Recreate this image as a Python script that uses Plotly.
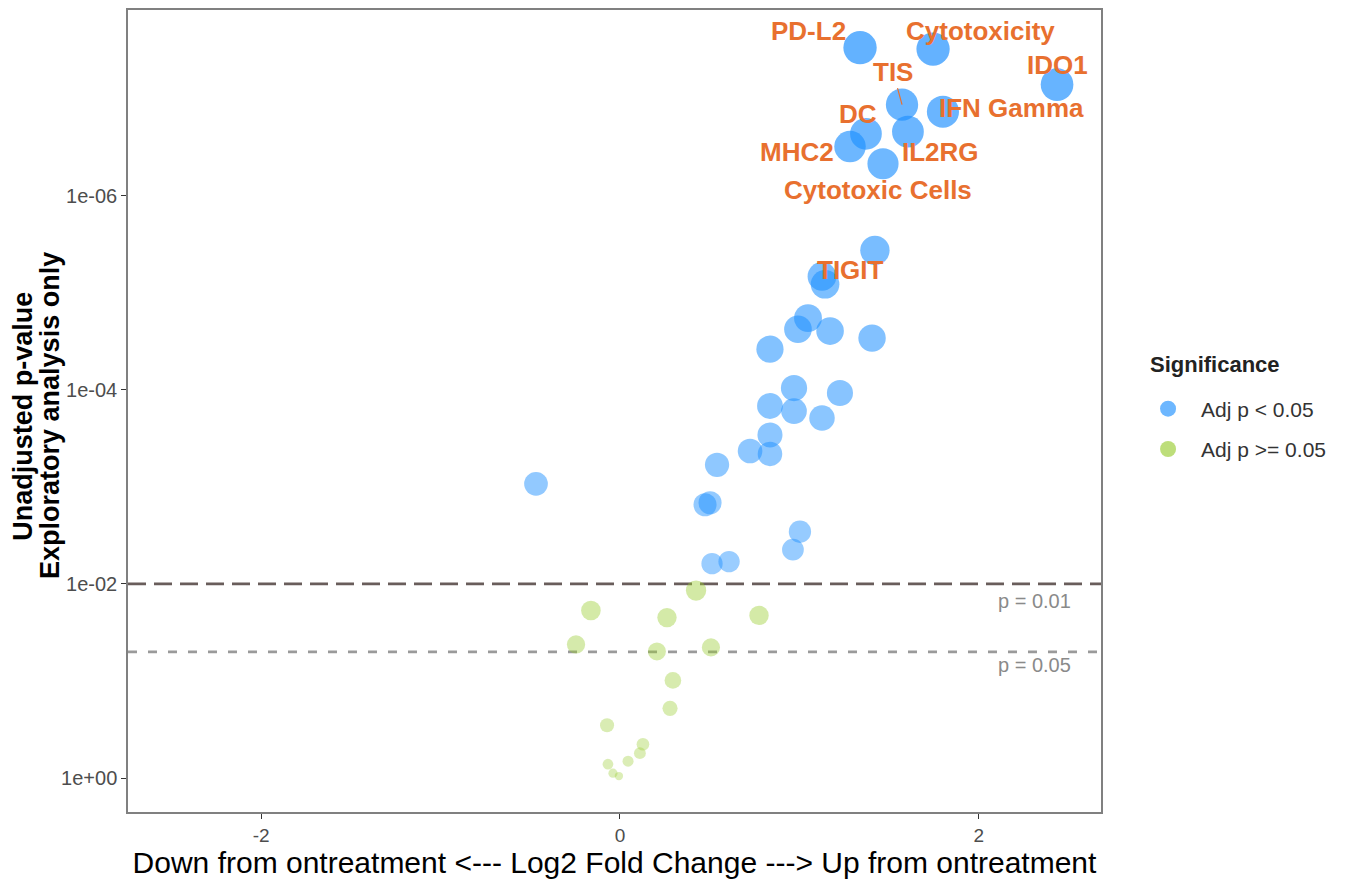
import numpy as np
import plotly.graph_objects as go

# Gene-set level results: log2 fold change, unadjusted p-value, label
sig_fc = [1.338, 1.745, 2.436, 1.572, 1.800, 1.371, 1.282, 1.605, 1.466,
          1.421, 1.126, 1.143, 1.048, 0.992, 1.171, 1.405, 0.836,
          0.970, 1.226, 0.836, 0.970, 1.126, 0.836, 0.725, 0.836, 0.541,
          0.502, 0.474, 1.003, 0.964, 0.513, 0.608, -0.468]
sig_p = [3.0e-8, 3.1e-8, 7.2e-8, 1.16e-7, 1.37e-7, 2.31e-7, 3.13e-7, 2.2e-7, 4.7e-7,
         3.67e-6, 6.8e-6, 8.2e-6, 1.83e-5, 2.38e-5, 2.49e-5, 2.94e-5, 3.82e-5,
         9.6e-5, 1.08e-4, 1.47e-4, 1.66e-4, 1.95e-4, 2.92e-4, 4.27e-4, 4.58e-4, 5.94e-4,
         1.46e-3, 1.53e-3, 2.90e-3, 4.44e-3, 6.18e-3, 5.89e-3, 9.3e-4]
sig_label = ["PD-L2", "Cytotoxicity", "IDO1", "TIS", "IFN Gamma", "DC", "MHC2", "IL2RG",
             "Cytotoxic Cells", "", "TIGIT"] + [""] * 22

ns_fc = [0.424, -0.162, 0.262, 0.775, -0.245, 0.206, 0.507, 0.295, 0.279,
         -0.072, 0.128, 0.111, 0.045, -0.067, -0.039, -0.006]
ns_p = [0.0117, 0.0188, 0.0222, 0.0211, 0.042, 0.0496, 0.0451, 0.0985, 0.191,
        0.285, 0.448, 0.553, 0.669, 0.718, 0.889, 0.953]

thresholds = [0.01, 0.05]
threshold_text = ["p = 0.01", "p = 0.05"]
legend_title = "Significance"
legend_names = ["Adj p < 0.05", "Adj p >= 0.05"]
y_title_lines = ["Unadjusted p-value", "Exploratory analysis only"]
x_title = "Down from ontreatment <--- Log2 Fold Change ---> Up from ontreatment"

x_range = [-2.742, 2.681]
y_range = [0.349, -7.911]  # log10 p, reversed so small p is at the top

BLUE = "30,144,255"
GREEN = "154,205,50"
LABEL_COLOR = "#E8702F"
FONT = "Liberation Sans, Arial, sans-serif"


def marker_style(pvals):
    v = -np.log10(np.asarray(pvals))
    size = 7 + 9.6 * np.sqrt(v)
    alpha = np.clip(0.5 + 0.065 * v, 0, 1)
    return size, alpha


fig = go.Figure()

# threshold lines
dash_styles = [dict(color="#695d5b", width=2.8, dash="18px,8px"),
               dict(color="#9a9a9a", width=2.8, dash="9px,11px")]
for thr, style in zip(thresholds, dash_styles):
    fig.add_trace(go.Scatter(x=x_range, y=[thr, thr], mode="lines", line=style,
                             hoverinfo="skip", showlegend=False))

for fc, p, rgb in [(ns_fc, ns_p, GREEN), (sig_fc, sig_p, BLUE)]:
    size, alpha = marker_style(p)
    colors = [f"rgba({rgb},{a:.3f})" for a in alpha]
    fig.add_trace(go.Scatter(x=fc, y=p, mode="markers",
                             marker=dict(size=size, color=colors, line=dict(width=0)),
                             showlegend=False))

# legend entries
for i, (name, rgb) in enumerate(zip(legend_names, [BLUE, GREEN])):
    fig.add_trace(go.Scatter(x=[None], y=[None], mode="markers", name=name,
                             legendgroup=f"g{i}",
                             marker=dict(size=16, color=f"rgba({rgb},0.65)")))

# point labels (pixel offsets from each point)
label_offsets = {
    "PD-L2": (-52, 17), "Cytotoxicity": (47, 18), "IDO1": (0, 20),
    "IFN Gamma": (69, 4), "DC": (-8, 20), "MHC2": (-53, -5), "IL2RG": (33, -20),
    "Cytotoxic Cells": (-5, -26), "TIGIT": (28, 6),
}
annotations = []
for fc, p, lab in zip(sig_fc, sig_p, sig_label):
    if not lab:
        continue
    font = dict(family=FONT, size=26, color=LABEL_COLOR)
    if lab == "TIS":
        annotations.append(dict(x=fc, y=np.log10(p), text=f"<b>{lab}</b>", font=font,
                                showarrow=True, arrowhead=0, arrowwidth=1.2,
                                arrowcolor=LABEL_COLOR, ax=-9, ay=-33, standoff=0))
    else:
        dx, dy = label_offsets[lab]
        annotations.append(dict(x=fc, y=np.log10(p), text=f"<b>{lab}</b>", font=font,
                                showarrow=False, xshift=dx, yshift=dy))

# threshold captions, just under each line
for thr, txt, dy in zip(thresholds, threshold_text, [-17, -13]):
    annotations.append(dict(x=2.313, y=np.log10(thr), text=txt, showarrow=False,
                            yshift=dy, font=dict(family=FONT, size=20, color="#8a8a8a")))

# two-line y-axis title
for xpos, line in zip([-0.108, -0.080], y_title_lines):
    annotations.append(dict(xref="paper", yref="paper", x=xpos, y=0.494,
                            xanchor="center", yanchor="middle", textangle=-90,
                            text=f"<b>{line}</b>", showarrow=False,
                            font=dict(family=FONT, size=27, color="black")))

# legend title
annotations.append(dict(xref="paper", yref="paper", x=1.048, y=0.5585,
                        xanchor="left", yanchor="middle", showarrow=False,
                        text=f"<b>{legend_title}</b>",
                        font=dict(family=FONT, size=22, color="#222222")))

fig.update_layout(
    width=1353, height=888,
    margin=dict(l=128, r=252, t=8, b=76),
    paper_bgcolor="white", plot_bgcolor="white",
    font=dict(family=FONT, color="#222222"),
    annotations=annotations,
    legend=dict(
        font=dict(size=21, color="#333333"),
        x=1.035, xanchor="left", y=0.528, yanchor="top",
        tracegroupgap=10, itemwidth=56, bgcolor="rgba(0,0,0,0)",
    ),
    xaxis=dict(
        range=x_range, tickvals=[-2, 0, 2], ticktext=["-2", "0", "2"],
        ticks="outside", ticklen=5, tickcolor="#333333", tickwidth=1,
        tickfont=dict(size=19, color="#4d4d4d"),
        showgrid=False, zeroline=False,
        showline=True, mirror=True, linecolor="#808080", linewidth=1.5,
        title=dict(text=x_title, font=dict(size=30, color="black"), standoff=6),
    ),
    yaxis=dict(
        type="log", range=y_range,
        tickvals=[1, 1e-2, 1e-4, 1e-6], ticktext=["1e+00", "1e-02", "1e-04", "1e-06"],
        ticks="outside", ticklen=5, tickcolor="#333333", tickwidth=1,
        tickfont=dict(size=20, color="#4d4d4d"),
        showgrid=False, zeroline=False,
        showline=True, mirror=True, linecolor="#808080", linewidth=1.5,
    ),
)

fig.write_html("out.html")
